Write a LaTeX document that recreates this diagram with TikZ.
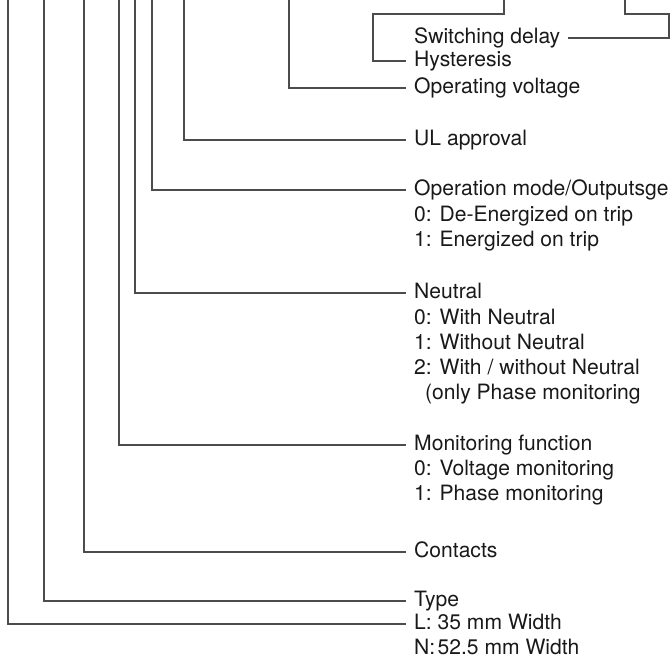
\documentclass[tikz,border=0pt]{standalone}
\usepackage{fontspec}
\setmainfont{TeX Gyre Heros}
\begin{document}
\begin{tikzpicture}[x=1pt,y=-1pt,
  lbl/.style={anchor=west,inner xsep=8pt,inner ysep=0pt,text height=10.3pt,text depth=-4.7pt,font=\fontsize{21.1pt}{25pt}\selectfont,text=black!90},
  con/.style={draw=black!70,line width=1.2pt,line join=miter}]
\useasboundingbox (0,0) rectangle (672,663);
% top coordinates
\coordinate (tA) at (8,0);
\coordinate (tB) at (44,0);
\coordinate (tC) at (84,0);
\coordinate (tD) at (119,0);
\coordinate (tE) at (135,0);
\coordinate (tF) at (152,0);
\coordinate (tG) at (184,0);
\coordinate (tH) at (289,0);
\coordinate (tI) at (504,0);
\coordinate (tJ) at (625,0);
% labels
\node[lbl] (sw) at (406,38) {Switching delay};
\node[lbl] (hy) at (406,61) {Hysteresis};
\node[lbl] (ov) at (406,88) {Operating voltage};
\node[lbl] (ul) at (406,140) {UL approval};
\node[lbl] (om) at (406,190) {Operation mode/Outputsge};
\node[lbl] (om0) at (406,216) {0: De-Energized on trip};
\node[lbl] (om1) at (406,241) {1: Energized on trip};
\node[lbl] (ne) at (406,293) {Neutral};
\node[lbl] (ne0) at (406,319) {0: With Neutral};
\node[lbl] (ne1) at (406,344) {1: Without Neutral};
\node[lbl] (ne2) at (406,369) {2: With / without Neutral};
\node[lbl] (ne3) at (406,394) {\hspace*{11pt}(only Phase monitoring};
\node[lbl] (mf) at (406,445) {Monitoring function};
\node[lbl] (mf0) at (406,470) {0: Voltage monitoring};
\node[lbl] (mf1) at (406,495) {1: Phase monitoring};
\node[lbl] (co) at (406,552) {Contacts};
\node[lbl] (ty) at (406,601) {Type};
\node[lbl] (tyL) at (406,624) {L: 35 mm Width};
\node[lbl] (tyN) at (406,649) {N:\kern2.3pt52.5 mm Width};
% connectors
\draw[con] (tA) |- (tyL.west);
\draw[con] (tB) |- (ty.west);
\draw[con] (tC) |- (co.west);
\draw[con] (tD) |- (mf.west);
\draw[con] (tE) |- (ne.west);
\draw[con] (tF) |- (om.west);
\draw[con] (tG) |- (ul.west);
\draw[con] (tH) |- (ov.west);
\draw[con] (tI) -- (504,14) -- (373,14) |- (hy.west);
\draw[con] (tJ) -- (625,14) -- (669,14) |- (sw.east);
\end{tikzpicture}
\end{document}
